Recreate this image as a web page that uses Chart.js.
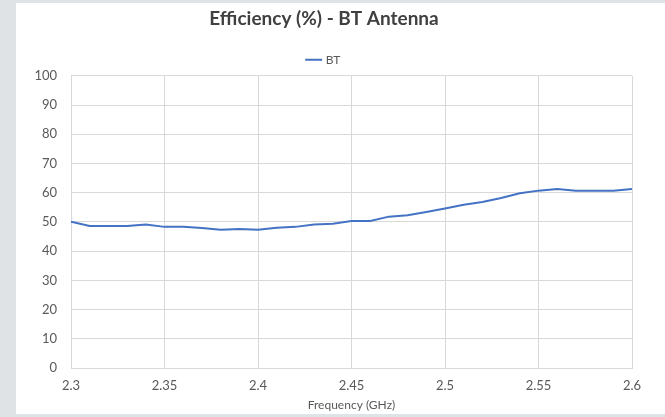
<!DOCTYPE html>
<html>
<head>
<meta charset="utf-8">
<script src="https://cdn.jsdelivr.net/npm/chart.js@4.4.0/dist/chart.umd.min.js"></script>
<style>
  html, body { margin:0; padding:0; background:#dfe3e6; }
  #box { position:absolute; left:16px; top:3px; width:649px; height:411px; background:#fff; }
</style>
</head>
<body>
<div id="box"><canvas id="myChart" width="649" height="411"></canvas></div>
<script>
  // frequency (GHz) and efficiency (%)
  const freq = [2.30,2.31,2.32,2.33,2.34,2.35,2.36,2.37,2.38,2.39,2.40,
                2.41,2.42,2.43,2.44,2.45,2.46,2.47,2.48,2.49,2.50,
                2.51,2.52,2.53,2.54,2.55,2.56,2.57,2.58,2.59,2.60];
  const btEff = [50.1,48.6,48.6,48.6,49.1,48.3,48.3,47.9,47.3,47.6,47.3,
                 48.0,48.3,49.1,49.4,50.3,50.3,51.8,52.3,53.4,54.6,
                 55.9,56.8,58.2,59.8,60.7,61.3,60.7,60.7,60.7,61.3];
  const seriesName = 'BT';

  const ctx = document.getElementById('myChart');
  const txt = '#595959';
  const grid = '#d9d9d9';

  var chart = new Chart(ctx, {
    type: 'line',
    data: {
      datasets: [{
        label: seriesName,
        data: freq.map((f, i) => ({x: f, y: btEff[i]})),
        borderColor: '#4472c4',
        backgroundColor: '#4472c4',
        borderWidth: 2,
        pointRadius: 0,
        tension: 0
      }]
    },
    options: {
      responsive: false,
      animation: false,
      layout: { padding: { left: 0, right: 33, top: 4, bottom: 0 } },
      plugins: {
        title: {
          display: true,
          text: 'Efficiency (%) - BT Antenna',
          color: '#404040',
          font: { family: 'Lato', size: 19, weight: 'bold' },
          padding: { top: 0, bottom: 17 }
        },
        legend: {
          labels: {
            usePointStyle: true,
            pointStyle: 'line',
            boxWidth: 16,
            padding: 7,
            color: txt,
            font: { family: 'Lato', size: 12 }
          }
        },
        tooltip: { enabled: false }
      },
      scales: {
        x: {
          type: 'linear',
          min: 2.3,
          max: 2.6,
          ticks: {
            stepSize: 0.05, color: txt, font: { family: 'Lato', size: 13 }, padding: 10,
            callback: v => String(Math.round(v * 100) / 100)
          },
          grid: { color: grid, drawTicks: false },
          border: { color: grid },
          title: { display: true, text: 'Frequency (GHz)', color: txt, font: { family: 'Lato', size: 12 }, padding: { top: 0, bottom: 2 } },
          afterFit: s => { s.height = 46; }
        },
        y: {
          min: 0,
          max: 100,
          ticks: { stepSize: 10, color: txt, font: { family: 'Lato', size: 13 }, padding: 14 },
          grid: { color: grid, drawTicks: false },
          border: { color: grid },
          afterFit: s => { s.width = 55; }
        }
      }
    }
  });
</script>
</body>
</html>
